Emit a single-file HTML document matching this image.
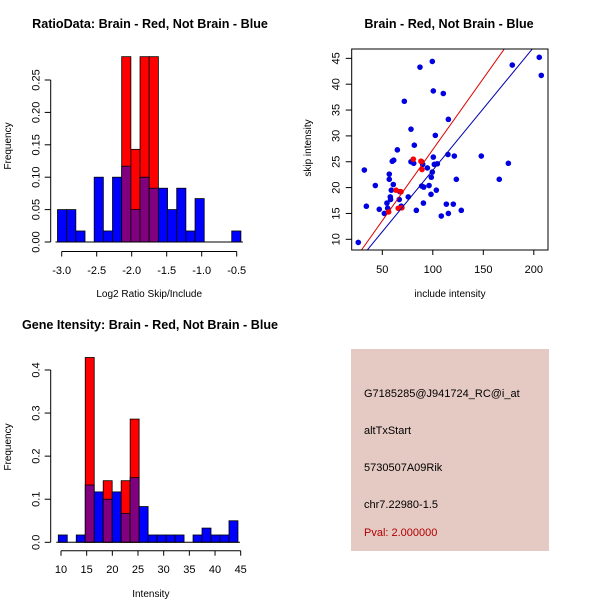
<!DOCTYPE html>
<html><head><meta charset="utf-8"><style>
html,body{margin:0;padding:0;background:#fff;width:600px;height:600px;overflow:hidden}
svg{display:block;font-family:"Liberation Sans",sans-serif}
</style></head><body>
<svg id="chart" width="600" height="600" viewBox="0 0 600 600" xmlns="http://www.w3.org/2000/svg">
<rect x="0" y="0" width="600" height="600" fill="#fff"/>
<g id="p1"></g>
<g id="p2"></g>
<g id="p3"></g>
<g id="p4">
<rect x="351" y="349" width="198" height="202" fill="#e5c9c3"/>
<text x="364" y="397" font-size="11">G7185285@J941724_RC@i_at</text>
<text x="364" y="434" font-size="11">altTxStart</text>
<text x="364" y="471" font-size="11">5730507A09Rik</text>
<text x="364" y="508" font-size="11">chr7.22980-1.5</text>
<text x="364" y="536" font-size="11" fill="#b00000">Pval: 2.000000</text>
</g>
</svg>
<script>
// ---- Panel 1 data: RatioData histogram ----
const h1Start = -3.06;
const h1Width = 0.131;
const h1Blue = [0.05,0.05,0.017,0,0.10,0.017,0.10,0.117,0.05,0.10,0.083,0.083,0.05,0.083,0.017,0.067,0,0,0,0.017];
const h1Red = [0,0,0,0,0,0,0,0.286,0.143,0.286,0.286,0,0,0,0,0,0,0,0,0];
const h1XTicks = [-3.0,-2.5,-2.0,-1.5,-1.0,-0.5];
const h1XTickLabels = ["-3.0","-2.5","-2.0","-1.5","-1.0","-0.5"];
const h1YTicks = [0,0.05,0.10,0.15,0.20,0.25];
const h1YTickLabels = ["0.00","0.05","0.10","0.15","0.20","0.25"];
// ---- Panel 3 data: Gene intensity histogram ----
const h3Start = 9.47;
const h3Width = 1.75;
const h3Blue = [0.017,0,0.017,0.133,0.117,0.10,0.117,0.067,0.15,0.083,0.017,0.017,0.017,0.017,0,0.017,0.033,0.017,0.017,0.05];
const h3Red = [0,0,0,0.429,0,0.143,0,0.143,0.286,0,0,0,0,0,0,0,0,0,0,0];
const h3XTicks = [10,15,20,25,30,35,40,45];
const h3YTicks = [0,0.1,0.2,0.3,0.4];
const h3YTickLabels = ["0.0","0.1","0.2","0.3","0.4"];
// ---- Panel 2 data: scatter ----
const blueX = [26.2,32.2,34.2,43.1,47.0,52.0,54.6,55.3,56.9,56.9,57.9,58.2,58.9,59.9,61.3,60.9,64.9,66.8,67.5,68.8,71.8,75.7,78.4,78.4,81.1,81.7,83.7,87.3,89.0,90.0,89.0,91.0,90.7,94.6,96.3,98.2,98.5,99.5,99.5,100.5,100.5,101.5,103.5,102.5,104.5,108.4,110.4,113.4,115.0,115.4,115.4,120.3,121.3,123.3,128.2,148.0,165.8,174.8,178.7,205.4,207.4];
const blueY = [9.4,23.4,16.4,20.4,15.8,15.0,17.0,16.0,22.6,21.6,18.2,17.7,19.5,25.1,25.3,20.6,27.3,17.7,19.2,16.4,36.7,18.2,31.3,25.0,24.7,28.2,15.6,43.3,25.0,24.5,20.3,20.1,17.0,23.8,20.4,18.7,22.0,23.0,44.4,25.9,38.7,24.5,19.5,30.1,24.6,14.5,38.2,16.8,26.4,15.0,33.2,16.8,26.1,21.6,15.6,26.1,21.6,24.7,43.7,45.2,41.7];
const redX = [63.6,68.5,56.3,65.8,69.4,80.7,88.3,89.3];
const redY = [19.5,19.2,15.3,16.0,16.1,25.5,25.1,23.5];
const redFit = [-0.15,0.275];
const blueFit = [-0.43,0.238];
const sXTicks = [50,100,150,200];
const sYTicks = [10,15,20,25,30,35,40,45];

const NS="http://www.w3.org/2000/svg";
function mk(parent,tag,attrs){const e=document.createElementNS(NS,tag);for(const k in attrs)e.setAttribute(k,attrs[k]);parent.appendChild(e);return e;}

function hist(g,cfg){
  const {start,width,blue,red,xs,ys,xTicks,xLabels,yTicks,yLabels,axisY,tickLabelY,title,titleY,xlab,xlabY,ylabX,ylabY,yAxisX}=cfg;
  for(let i=0;i<blue.length;i++){
    const x0=xs(start+i*width), x1=xs(start+(i+1)*width);
    const b=blue[i], r=red[i];
    if(r>0){
      const e=mk(g,'rect',{x:x0,y:ys(r),width:x1-x0,height:ys(0)-ys(r),fill:'#ff0000',stroke:'#000','stroke-width':0.8});
      
      
    }
    if(b>0){
      const e=mk(g,'rect',{x:x0,y:ys(b),width:x1-x0,height:ys(0)-ys(b),fill:r>0?'#800080':'#0000ff',stroke:'#000','stroke-width':0.8});
      
      
    }
  }
  mk(g,'line',{x1:xs(start)-2,x2:xs(start+blue.length*width)+2,y1:ys(0),y2:ys(0),stroke:'#000','stroke-width':1});
  const xa=mk(g,'g',{});
  
  
  mk(xa,'line',{x1:xs(xTicks[0]),x2:xs(xTicks[xTicks.length-1]),y1:axisY,y2:axisY,stroke:'#000'});
  xTicks.forEach((t,i)=>{
    mk(xa,'line',{x1:xs(t),x2:xs(t),y1:axisY,y2:axisY+5,stroke:'#000'});
    const tx=mk(xa,'text',{x:xs(t),y:tickLabelY,'font-size':11,'text-anchor':'middle'});
    tx.textContent=xLabels[i];
    
    
  });
  const ya=mk(g,'g',{});
  
  
  mk(ya,'line',{x1:yAxisX,x2:yAxisX,y1:ys(yTicks[0]),y2:ys(yTicks[yTicks.length-1]),stroke:'#000'});
  yTicks.forEach((t,i)=>{
    mk(ya,'line',{x1:yAxisX-6,x2:yAxisX,y1:ys(t),y2:ys(t),stroke:'#000'});
    const tx=mk(ya,'text',{x:0,y:0,'font-size':11,'text-anchor':'middle',transform:`translate(${yAxisX-11},${ys(t)}) rotate(-90)`});
    tx.textContent=yLabels[i];
    
    
  });
  const tt=mk(g,'text',{x:150,y:titleY,'font-size':12.6,'font-weight':'bold','text-anchor':'middle'});
  tt.textContent=title;
  
  
  const xl=mk(g,'text',{x:xs((xTicks[0]+xTicks[xTicks.length-1])/2),y:xlabY,'font-size':10,'text-anchor':'middle'});
  xl.textContent=xlab;
  
  
  const yl=mk(g,'text',{x:0,y:0,'font-size':10,'text-anchor':'middle',transform:`translate(${ylabX},${ylabY}) rotate(-90)`});
  yl.textContent='Frequency';
  
  
}

hist(document.getElementById('p1'),{start:h1Start,width:h1Width,blue:h1Blue,red:h1Red,
  xs:v=>61.7+(v+3)*70, ys:v=>242-v*648,
  xTicks:h1XTicks,xLabels:h1XTickLabels,yTicks:h1YTicks,yLabels:h1YTickLabels,
  axisY:251.5,tickLabelY:274,title:'RatioData: Brain - Red, Not Brain - Blue',titleY:28,
  xlab:'Log2 Ratio Skip/Include',xlabY:297,ylabX:11,ylabY:146,yAxisX:50.7});

hist(document.getElementById('p3'),{start:h3Start,width:h3Width,blue:h3Blue,red:h3Red,
  xs:v=>61+(v-10)*5.134, ys:v=>542.3-v*430.8,
  xTicks:h3XTicks,xLabels:h3XTicks.map(String),yTicks:h3YTicks,yLabels:h3YTickLabels,
  axisY:550.7,tickLabelY:573,title:'Gene Itensity: Brain - Red, Not Brain - Blue',titleY:329,
  xlab:'Intensity',xlabY:597,ylabX:11,ylabY:447,yAxisX:50.7});

// scatter
(function(){
  const g=document.getElementById('p2');
  const L=351.7,R=548,T=49,B=250;
  const xs=v=>382.3+(v-50)*1.01, ys=v=>239.3-(v-10)*5.17;
  mk(g,'defs',{}).innerHTML='<clipPath id="pc"><rect x="'+L+'" y="'+T+'" width="'+(R-L)+'" height="'+(B-T)+'"/></clipPath>';
  blueX.forEach((x,i)=>{
    const c=mk(g,'circle',{cx:xs(x),cy:ys(blueY[i]),r:2.8,fill:'#0000e0'});
    
    
  });
  redX.forEach((x,i)=>{
    const c=mk(g,'circle',{cx:xs(x),cy:ys(redY[i]),r:2.8,fill:'#ff0000'});
    
    
  });
  const x0=0,x1=230;
  const rl=mk(g,'line',{x1:xs(x0),y1:ys(redFit[0]+redFit[1]*x0),x2:xs(x1),y2:ys(redFit[0]+redFit[1]*x1),stroke:'#e00000','stroke-width':1,'clip-path':'url(#pc)'});
  
  
  const bl=mk(g,'line',{x1:xs(x0),y1:ys(blueFit[0]+blueFit[1]*x0),x2:xs(x1),y2:ys(blueFit[0]+blueFit[1]*x1),stroke:'#0000b0','stroke-width':1,'clip-path':'url(#pc)'});
  
  
  const f=mk(g,'rect',{x:L,y:T,width:R-L,height:B-T,fill:'none',stroke:'#000','stroke-width':1});
  
  
  sXTicks.forEach(t=>{
    mk(g,'line',{x1:xs(t),x2:xs(t),y1:B,y2:B+5,stroke:'#000'});
    const tx=mk(g,'text',{x:xs(t),y:273,'font-size':11,'text-anchor':'middle'});
    tx.textContent=String(t);
    
    
  });
  sYTicks.forEach(t=>{
    mk(g,'line',{x1:L-6,x2:L,y1:ys(t),y2:ys(t),stroke:'#000'});
    const tx=mk(g,'text',{x:0,y:0,'font-size':11,'text-anchor':'middle',transform:`translate(${L-12},${ys(t)}) rotate(-90)`});
    tx.textContent=String(t);
    
    
  });
  const tt=mk(g,'text',{x:449,y:28,'font-size':12.6,'font-weight':'bold','text-anchor':'middle'});
  tt.textContent='Brain - Red, Not Brain - Blue';
  
  
  const xl=mk(g,'text',{x:450,y:297,'font-size':10,'text-anchor':'middle'});
  xl.textContent='include intensity';
  
  
  const yl=mk(g,'text',{x:0,y:0,'font-size':10,'text-anchor':'middle',transform:'translate(311,148) rotate(-90)'});
  yl.textContent='skip intensity';
  
  
})();
</script>
</body></html>
